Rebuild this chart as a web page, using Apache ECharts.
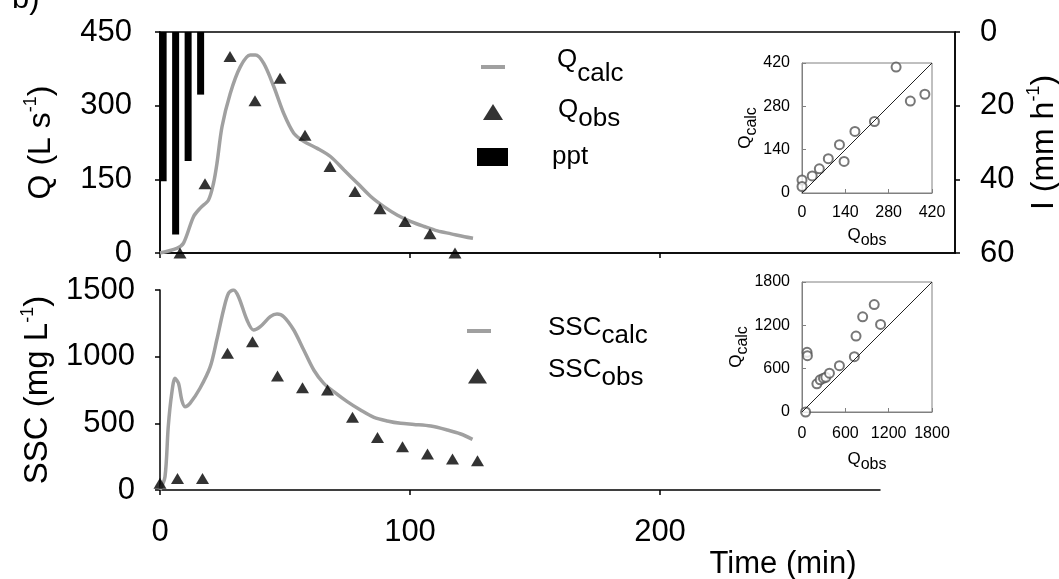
<!DOCTYPE html>
<html>
<head>
<meta charset="utf-8">
<script src="https://cdn.jsdelivr.net/npm/echarts@6/dist/echarts.min.js"></script>
<style>
html,body{margin:0;padding:0;background:#fff;}
#chart{width:1059px;height:579px;}
</style>
</head>
<body>
<div id="chart"></div>
<script>
// ---- Data ----
const qCalcTime = [0,6.7,9.4,13.4,16,19.4,21.4,22.8,24.8,28.1,32.1,36.1,38.2,41.5,45.5,49.5,53.5,57.6,62.9,68.3,73.6,79,84.3,89.7,95,100.4,105.7,111,116.5,121.8,125.2];
const qCalc = [0,9.5,20,74,91,108,142,183,257,325,379,403,403,386,339,284,244,227,213,196,169,142,115,94,77,64,54,45,39,33,30];
const qObsTime = [8,18,28,38,48,58,68,78,88,98,108,118];
const qObs = [0,141,400,310,356,240,176,125,90,64,39,0];
const pptTime = [1.25,6.25,11.25,16.25];
const ppt = [40.5,55,35,17];

const sscCalcTime = [0,2,3.3,4.7,6,7.4,8.7,10,12,16,20.1,22.7,25.4,27.4,29.4,31.4,34.8,37.4,40.1,44.1,46.8,49.5,53.5,57.5,61.5,65.5,69.5,74.9,80.2,85.6,90.9,96.3,101.6,108.3,115,120.3,125];
const sscCalc = [0,100,475,725,838,800,675,625,650,763,925,1125,1350,1475,1500,1450,1275,1200,1225,1300,1320,1300,1200,1050,900,800,738,663,600,545,518,500,492,480,450,420,380];
const sscObsTime = [0,7,17,27,37,47,57,67,77,87,97,107,117,127];
const sscObs = [50,87,87,1025,1112,855,767,750,545,393,325,270,232,220];

const insetQObs = [0,0,33,56,85,121,136,171,234,304,350,397];
const insetQCalc = [42,21,55,78,111,156,102,199,231,407,297,319];
const insetSObs = [50,70,75,206,252,298,330,380,518,725,748,840,1000,1088];
const insetSCalc = [0,827,780,390,445,468,480,537,642,766,1051,1318,1488,1213];

const timeTicks = [0,100,200];
const qTicks = [0,150,300,450];
const iTicks = [0,20,40,60];
const sscTicks = [0,500,1000,1500];
const insetQTicks = [0,140,280,420];
const insetSTicks = [0,600,1200,1800];

// ---- Build ----
const pair = (xs, ys) => xs.map((x, i) => [x, ys[i]]);
const FONT = 'Arial, "Liberation Sans", sans-serif';
const black = '#000';
const grayLine = '#a0a0a0';
const insetGray = '#808080';
const plain = v => String(v);

function mainAxisStyle() {
  return {
    axisLine: {show: true, lineStyle: {color: black, width: 1.5}},
    axisTick: {show: true, length: 5, lineStyle: {color: black, width: 1.5}},
    axisLabel: {color: black, fontSize: 31, fontFamily: FONT, formatter: plain},
    splitLine: {show: false}
  };
}
function insetAxisStyle() {
  return {
    axisLine: {show: true, lineStyle: {color: insetGray, width: 1}},
    axisTick: {show: true, inside: true, length: 4, lineStyle: {color: insetGray, width: 1}},
    axisLabel: {color: black, fontSize: 16, fontFamily: FONT, margin: 10, formatter: plain},
    splitLine: {show: false}
  };
}

const legendLabels = {
  Qcalc: '{m|Q}{s|calc}',
  Qobs: '{m|Q}{s|obs}',
  ppt: '{p|ppt}',
  SSCcalc: '{m|SSC}{s|calc}',
  SSCobs: '{m|SSC}{s|obs}'
};
function legendRich(size, upMain, downSub) {
  return {
    m: {fontSize: size, fontFamily: FONT, color: black, lineHeight: 30, padding: [0,0,2*upMain,0]},
    s: {fontSize: size, fontFamily: FONT, color: black, lineHeight: 30, padding: [2*downSub,0,0,0]},
    p: {fontSize: size, fontFamily: FONT, color: black, lineHeight: 30}
  };
}
function mkLegend(name, left, top, icon, w, h, textPad, rich) {
  return {
    data: [name], left: left, top: top, orient: 'vertical', padding: 0,
    icon: icon, itemWidth: w, itemHeight: h, selectedMode: false,
    formatter: n => legendLabels[n],
    textStyle: {padding: [0,0,0,textPad], rich: rich}
  };
}
const nameRich = (size) => ({
  a: {fontSize: size, color: black, fontFamily: FONT},
  u: {fontSize: 18, color: black, fontFamily: FONT, padding: [0,0,20,0]}
});
const insetNameRich = {
  m: {fontSize: 17, color: black, fontFamily: FONT},
  s: {fontSize: 16, color: black, fontFamily: FONT, padding: [12,0,0,0]}
};

const option = {
  animation: false,
  backgroundColor: '#fff',
  textStyle: {fontFamily: FONT},
  title: {text: 'b)', left: 12, top: -16, padding: 0, textStyle: {fontSize: 31, fontWeight: 'normal', color: black, fontFamily: FONT}},
  legend: [
    mkLegend('Qcalc', 481, 47, 'rect', 24, 4, 47, legendRich(26, 7, 7)),
    mkLegend('Qobs', 483, 92, 'triangle', 20, 16, 50, legendRich(26, 2, 7)),
    mkLegend('ppt', 477, 144, 'rect', 31, 18, 39, legendRich(26, 0, 0)),
    mkLegend('SSCcalc', 467, 313, 'rect', 24, 4, 52, legendRich(26, 3, 5)),
    mkLegend('SSCobs', 468, 357, 'triangle', 19, 15, 56, legendRich(26, 6, 2))
  ],
  grid: [
    {left: 160, top: 32, width: 795, height: 221, show: true, borderColor: black, borderWidth: 1.5, backgroundColor: 'transparent', outerBoundsMode: 'none', containLabel: false},
    {left: 160, top: 290, width: 720, height: 200, outerBoundsMode: 'none', containLabel: false},
    {left: 802, top: 63, width: 130, height: 130, show: true, borderColor: insetGray, borderWidth: 1, backgroundColor: 'transparent', outerBoundsMode: 'none', containLabel: false},
    {left: 802, top: 282, width: 130, height: 130, show: true, borderColor: insetGray, borderWidth: 1, backgroundColor: 'transparent', outerBoundsMode: 'none', containLabel: false}
  ],
  xAxis: [
    Object.assign(mainAxisStyle(), {
      gridIndex: 0, type: 'value', min: 0, max: 318, interval: 100,
      axisLabel: {show: false},
      axisTick: {show: true, length: 5, customValues: timeTicks, lineStyle: {color: black, width: 1.5}}
    }),
    Object.assign(mainAxisStyle(), {
      gridIndex: 1, type: 'value', min: 0, max: 288, interval: 100,
      axisLabel: {color: black, fontSize: 31, fontFamily: FONT, margin: 27, customValues: timeTicks, formatter: plain},
      axisTick: {show: true, length: 5, customValues: timeTicks, lineStyle: {color: black, width: 1.5}},
      name: 'Time (min)', nameLocation: 'middle', nameGap: 52,
      nameTextStyle: {fontSize: 31, color: black, fontFamily: FONT, padding: [0,0,0,526]}
    }),
    Object.assign(insetAxisStyle(), {
      gridIndex: 2, type: 'value', min: 0, max: 420, interval: 140,
      axisLabel: {color: black, fontSize: 16, fontFamily: FONT, margin: 12, customValues: insetQTicks, formatter: plain},
      name: '{m|Q}{s|obs}', nameLocation: 'middle', nameGap: 28,
      nameTextStyle: {rich: insetNameRich}
    }),
    Object.assign(insetAxisStyle(), {
      gridIndex: 3, type: 'value', min: 0, max: 1800, interval: 600,
      axisLabel: {color: black, fontSize: 16, fontFamily: FONT, margin: 14, customValues: insetSTicks, formatter: plain},
      name: '{m|Q}{s|obs}', nameLocation: 'middle', nameGap: 33,
      nameTextStyle: {rich: insetNameRich}
    })
  ],
  yAxis: [
    Object.assign(mainAxisStyle(), {
      gridIndex: 0, type: 'value', min: 0, max: 450, interval: 150,
      axisLabel: {color: black, fontSize: 31, fontFamily: FONT, margin: 28, customValues: qTicks, formatter: plain},
      name: '{a|Q (L s}{u|-1}{a|)}', nameLocation: 'middle', nameRotate: 90, nameGap: 100,
      nameTextStyle: {rich: nameRich(32)}
    }),
    Object.assign(mainAxisStyle(), {
      gridIndex: 0, type: 'value', position: 'right', inverse: true, min: 0, max: 60, interval: 20,
      axisLabel: {color: black, fontSize: 31, fontFamily: FONT, margin: 25, customValues: iTicks, formatter: plain},
      name: '{a|I (mm h}{u|-1}{a|)}', nameLocation: 'middle', nameRotate: 90, nameGap: 68,
      nameTextStyle: {rich: nameRich(32)}
    }),
    Object.assign(mainAxisStyle(), {
      gridIndex: 1, type: 'value', min: 0, max: 1500, interval: 500,
      axisLabel: {color: black, fontSize: 31, fontFamily: FONT, margin: 25, customValues: sscTicks, formatter: plain},
      name: '{a|SSC (mg L}{u|-1}{a|)}', nameLocation: 'middle', nameRotate: 90, nameGap: 103,
      nameTextStyle: {rich: nameRich(33)}
    }),
    Object.assign(insetAxisStyle(), {
      gridIndex: 2, type: 'value', min: 0, max: 420, interval: 140,
      axisLabel: {color: black, fontSize: 16, fontFamily: FONT, margin: 12, customValues: insetQTicks, formatter: plain},
      name: '{m|Q}{s|calc}', nameLocation: 'middle', nameRotate: 90, nameGap: 40,
      nameTextStyle: {rich: insetNameRich}
    }),
    Object.assign(insetAxisStyle(), {
      gridIndex: 3, type: 'value', min: 0, max: 1800, interval: 600,
      axisLabel: {color: black, fontSize: 16, fontFamily: FONT, margin: 12, customValues: insetSTicks, formatter: plain},
      name: '{m|Q}{s|calc}', nameLocation: 'middle', nameRotate: 90, nameGap: 48,
      nameTextStyle: {rich: insetNameRich}
    })
  ],
  series: [
    {name: 'Qcalc', type: 'line', xAxisIndex: 0, yAxisIndex: 0, data: pair(qCalcTime, qCalc),
     smooth: 0.3, showSymbol: false, color: grayLine, itemStyle: {color: grayLine},
     lineStyle: {color: grayLine, width: 3.5}, z: 3},
    {name: 'Qobs', type: 'scatter', xAxisIndex: 0, yAxisIndex: 0, data: pair(qObsTime, qObs),
     symbol: 'triangle', symbolSize: [13, 11], itemStyle: {color: black}, clip: false, z: 4},
    {name: 'ppt', type: 'bar', xAxisIndex: 0, yAxisIndex: 1, data: pair(pptTime, ppt),
     barWidth: 7, itemStyle: {color: black}, z: 2},
    {name: 'SSCcalc', type: 'line', xAxisIndex: 1, yAxisIndex: 2, data: pair(sscCalcTime, sscCalc),
     smooth: 0.3, showSymbol: false, color: grayLine, itemStyle: {color: grayLine},
     lineStyle: {color: grayLine, width: 3.5}, z: 3},
    {name: 'SSCobs', type: 'scatter', xAxisIndex: 1, yAxisIndex: 2, data: pair(sscObsTime, sscObs),
     symbol: 'triangle', symbolSize: [13, 11], itemStyle: {color: black}, clip: false, z: 4},
    {name: 'qOneToOne', type: 'line', xAxisIndex: 2, yAxisIndex: 3, data: [[0,0],[420,420]],
     showSymbol: false, lineStyle: {color: '#222', width: 1}, silent: true},
    {name: 'qInset', type: 'scatter', xAxisIndex: 2, yAxisIndex: 3, data: pair(insetQObs, insetQCalc),
     symbol: 'emptyCircle', symbolSize: 9, itemStyle: {color: '#555', borderWidth: 1}, clip: false},
    {name: 'sOneToOne', type: 'line', xAxisIndex: 3, yAxisIndex: 4, data: [[0,0],[1800,1800]],
     showSymbol: false, lineStyle: {color: '#222', width: 1}, silent: true},
    {name: 'sInset', type: 'scatter', xAxisIndex: 3, yAxisIndex: 4, data: pair(insetSObs, insetSCalc),
     symbol: 'emptyCircle', symbolSize: 9, itemStyle: {color: '#555', borderWidth: 1}, clip: false}
  ]
};

const chart = echarts.init(document.getElementById('chart'), null, {renderer: 'canvas'});
chart.setOption(option);
</script>
</body>
</html>
